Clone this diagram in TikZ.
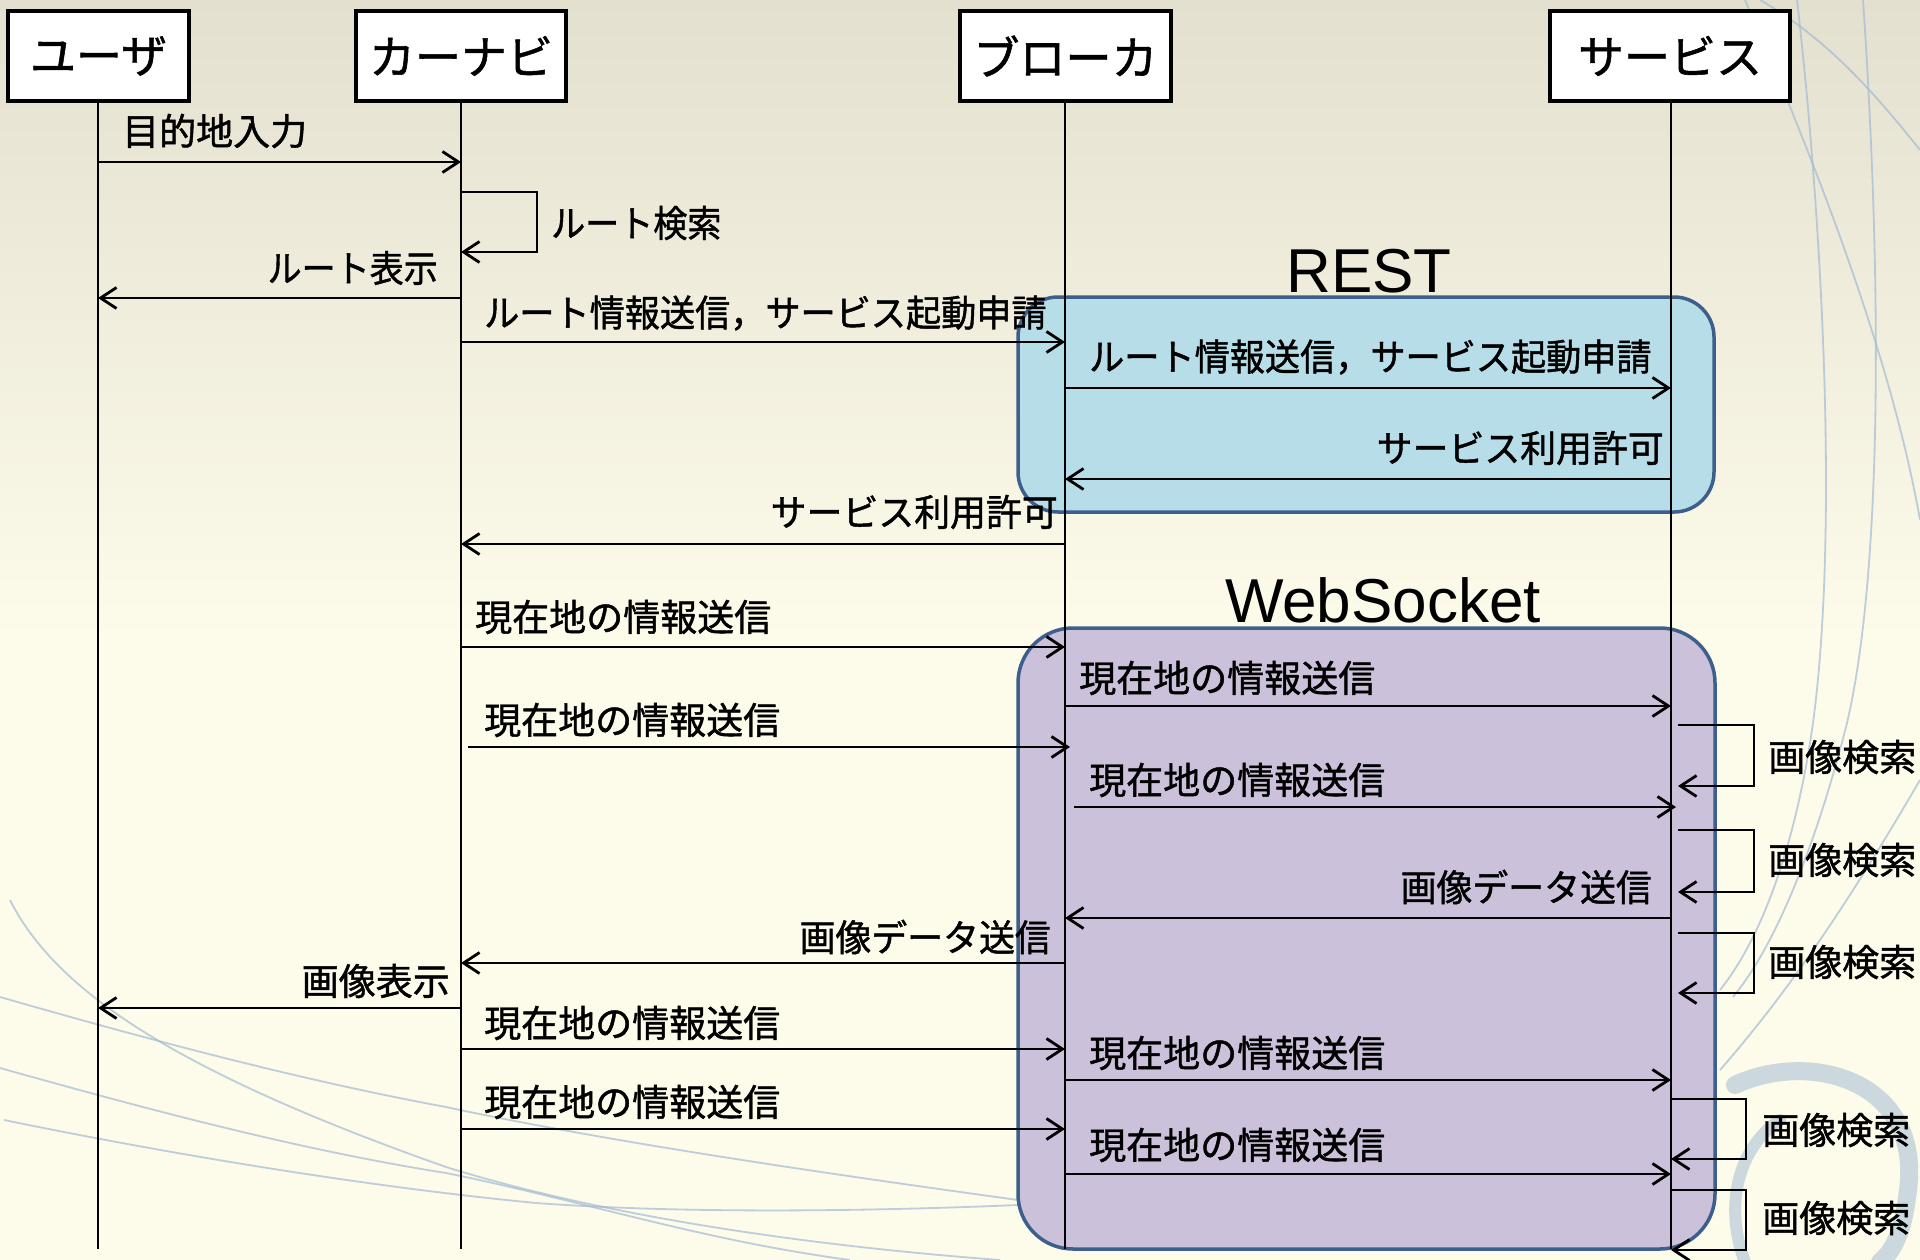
\documentclass[tikz,border=0pt]{standalone}
\usepackage{fontspec}
\usepackage{graphicx}
\newfontfamily\jpfont[FakeBold=1.2]{Noto Sans CJK JP}
\newfontfamily\latfont{Liberation Sans}
\usetikzlibrary{arrows.meta}
\definecolor{bgcream}{HTML}{FDFBEA}
\definecolor{bgtop}{HTML}{E4E0D0}
\definecolor{restfill}{HTML}{B7DDE8}
\definecolor{wsfill}{HTML}{CCC1DA}
\definecolor{grpborder}{HTML}{3D5F8C}
\definecolor{decoblue}{HTML}{A3BAD3}
\definecolor{swirlc}{HTML}{C3D2DC}
\newcommand{\sqz}[2]{\scalebox{#1}[1]{#2}}
\begin{document}
\begin{tikzpicture}[x=1pt,y=-1pt,
  actor/.style={draw=black, line width=4pt, fill=white, minimum height=90pt, inner sep=0pt,
    font=\jpfont\fontsize{46}{50}\selectfont},
  lifeline/.style={draw=black, line width=2pt},
  msg/.style={draw=black, line width=2.8pt, -{Straight Barb[length=16pt,width=21pt]}},
  lbl/.style={inner sep=0pt, font=\jpfont\fontsize{37}{40}\selectfont},
  grp/.style={draw=grpborder, line width=3.5pt, rounded corners=#1, inner sep=0pt},
  title/.style={inner sep=0pt, anchor=base, font=\latfont\fontsize{62}{66}\selectfont},
  deco/.style={draw=decoblue, line width=1.8pt, opacity=0.7}
]
\useasboundingbox (0,0) rectangle (1920,1260);
% background
\fill[bgcream] (0,0) rectangle (1920,1260);
\shade[top color=bgtop, bottom color=bgcream, shading angle=0] (0,0) rectangle (1920,640);
% decorative curves
\draw[deco] (1797,0) .. controls (1820,200) and (1840,520) .. (1813,723) .. controls (1795,850) and (1760,940) .. (1720,990);
\draw[deco] (1863,0) .. controls (1880,250) and (1885,560) .. (1847,723) .. controls (1820,830) and (1780,940) .. (1733,997);
\draw[deco] (1745,0) .. controls (1810,150) and (1890,350) .. (1920,520);
\draw[deco] (1760,0) .. controls (1830,40) and (1880,100) .. (1920,150);
\draw[deco] (1920,780) .. controls (1850,900) and (1790,990) .. (1720,1070);
\draw[deco] (10,900) .. controls (60,1000) and (200,1080) .. (446,1167) .. controls (600,1215) and (800,1245) .. (1000,1260);
\draw[deco] (0,997) .. controls (150,1040) and (300,1080) .. (446,1107) .. controls (600,1140) and (800,1170) .. (1018,1200);
\draw[deco] (0,1068) .. controls (150,1110) and (300,1150) .. (446,1173) .. controls (580,1200) and (700,1240) .. (850,1260);
\draw[deco] (4,1120) .. controls (150,1150) and (350,1185) .. (536,1203) .. controls (700,1215) and (900,1210) .. (1018,1205);
\draw[draw=swirlc, line width=18pt, opacity=0.85, line cap=round] (1735,1085) .. controls (1810,1050) and (1922,1080) .. (1908,1190) .. controls (1903,1235) and (1892,1252) .. (1880,1262);
\draw[draw=swirlc, line width=12pt, opacity=0.85, line cap=round] (1745,1262) .. controls (1725,1210) and (1735,1150) .. (1780,1120);
% group boxes
\node[grp=40pt, fill=restfill, minimum width=696pt, minimum height=215pt] (rest) at (1366,404.5) {};
\node[grp=55pt, fill=wsfill, minimum width=697pt, minimum height=621pt] (ws) at (1366.5,938.5) {};
\node[title] (resttitle) at (1369,292) {REST};
\node[title] (wstitle) at (1383,622) {WebSocket};
% actors
\node[actor, minimum width=181pt] (user) at (98.5,56) {ユーザ};
\node[actor, minimum width=210pt] (car) at (461,56) {カーナビ};
\node[actor, minimum width=211pt] (brk) at (1065.5,56) {ブローカ};
\node[actor, minimum width=240pt] (svc) at (1670,56) {サービス};
% lifelines
\coordinate (userend) at (98,1249);
\coordinate (carend) at (461,1249);
\coordinate (brkend) at (1065,1249);
\coordinate (svcend) at (1671,1249);
\draw[lifeline] (user.south -| userend) -- (userend);
\draw[lifeline] (car.south -| carend) -- (carend);
\draw[lifeline] (brk.south -| brkend) -- (brkend);
\draw[lifeline] (svc.south -| svcend) -- (svcend);
% messages
\coordinate (a1) at (98,162); \coordinate (b1) at (461,162);
\draw[msg] (a1) -- (b1);
\node[lbl, anchor=west] (t1) at (122,131) {目的地入力};
\coordinate (s1a) at (461,192); \coordinate (s1b) at (537,192); \coordinate (s1c) at (537,252); \coordinate (s1d) at (461,252);
\draw[msg] (s1a) -- (s1b) -- (s1c) -- (s1d);
\node[lbl, anchor=west] (ts1) at (551,223) {\sqz{0.92}{ルート検索}};
\coordinate (a2) at (461,298); \coordinate (b2) at (98,298);
\draw[msg] (a2) -- (b2);
\node[lbl, anchor=east] (t2) at (438,268) {\sqz{0.92}{ルート表示}};
\coordinate (a3) at (461,342); \coordinate (b3) at (1065,342);
\draw[msg] (a3) -- (b3);
\node[lbl, anchor=west] (t3) at (484,313) {\sqz{0.95}{ルート情報送信，サービス起動申請}};
\coordinate (a4) at (1065,388); \coordinate (b4) at (1671,388);
\draw[msg] (a4) -- (b4);
\node[lbl, anchor=west] (t4) at (1089,357) {\sqz{0.95}{ルート情報送信，サービス起動申請}};
\coordinate (a5) at (1671,479); \coordinate (b5) at (1065,479);
\draw[msg] (a5) -- (b5);
\node[lbl, anchor=east] (t5) at (1664,448) {\sqz{0.97}{サービス利用許可}};
\coordinate (a6) at (1065,544); \coordinate (b6) at (461,544);
\draw[msg] (a6) -- (b6);
\node[lbl, anchor=east] (t6) at (1058,512) {\sqz{0.97}{サービス利用許可}};
\coordinate (a7) at (461,647); \coordinate (b7) at (1065,647);
\draw[msg] (a7) -- (b7);
\node[lbl, anchor=west] (t7) at (475,617) {現在地の情報送信};
\coordinate (a8) at (1065,706); \coordinate (b8) at (1671,706);
\draw[msg] (a8) -- (b8);
\node[lbl, anchor=west] (t8) at (1079,678) {現在地の情報送信};
\coordinate (a9) at (468,747); \coordinate (b9) at (1070,747);
\draw[msg] (a9) -- (b9);
\node[lbl, anchor=west] (t9) at (484,720) {現在地の情報送信};
\coordinate (sAa) at (1678,725); \coordinate (sAb) at (1754,725); \coordinate (sAc) at (1754,786); \coordinate (sAd) at (1678,786);
\draw[msg] (sAa) -- (sAb) -- (sAc) -- (sAd);
\node[lbl, anchor=west] (tsA) at (1768,757) {画像検索};
\coordinate (a10) at (1074,807); \coordinate (b10) at (1676,807);
\draw[msg] (a10) -- (b10);
\node[lbl, anchor=west] (t10) at (1089,780) {現在地の情報送信};
\coordinate (sBa) at (1678,830); \coordinate (sBb) at (1754,830); \coordinate (sBc) at (1754,892); \coordinate (sBd) at (1678,892);
\draw[msg] (sBa) -- (sBb) -- (sBc) -- (sBd);
\node[lbl, anchor=west] (tsB) at (1768,860) {画像検索};
\coordinate (a11) at (1671,918); \coordinate (b11) at (1065,918);
\draw[msg] (a11) -- (b11);
\node[lbl, anchor=east] (t11) at (1652,887) {\sqz{0.97}{画像データ送信}};
\coordinate (sCa) at (1678,933); \coordinate (sCb) at (1754,933); \coordinate (sCc) at (1754,993); \coordinate (sCd) at (1678,993);
\draw[msg] (sCa) -- (sCb) -- (sCc) -- (sCd);
\node[lbl, anchor=west] (tsC) at (1768,962) {画像検索};
\coordinate (a12) at (1065,963); \coordinate (b12) at (461,963);
\draw[msg] (a12) -- (b12);
\node[lbl, anchor=east] (t12) at (1051,937) {\sqz{0.97}{画像データ送信}};
\coordinate (a13) at (461,1008); \coordinate (b13) at (98,1008);
\draw[msg] (a13) -- (b13);
\node[lbl, anchor=east] (t13) at (450,981) {画像表示};
\coordinate (a14) at (461,1049); \coordinate (b14) at (1065,1049);
\draw[msg] (a14) -- (b14);
\node[lbl, anchor=west] (t14) at (484,1023) {現在地の情報送信};
\coordinate (a15) at (1065,1080); \coordinate (b15) at (1671,1080);
\draw[msg] (a15) -- (b15);
\node[lbl, anchor=west] (t15) at (1089,1053) {現在地の情報送信};
\coordinate (a16) at (461,1129); \coordinate (b16) at (1065,1129);
\draw[msg] (a16) -- (b16);
\node[lbl, anchor=west] (t16) at (484,1102) {現在地の情報送信};
\coordinate (sDa) at (1671,1099); \coordinate (sDb) at (1746,1099); \coordinate (sDc) at (1746,1159); \coordinate (sDd) at (1671,1159);
\draw[msg] (sDa) -- (sDb) -- (sDc) -- (sDd);
\node[lbl, anchor=west] (tsD) at (1762,1130) {画像検索};
\coordinate (a17) at (1065,1174); \coordinate (b17) at (1671,1174);
\draw[msg] (a17) -- (b17);
\node[lbl, anchor=west] (t17) at (1089,1145) {現在地の情報送信};
\coordinate (sEa) at (1671,1190); \coordinate (sEb) at (1746,1190); \coordinate (sEc) at (1746,1250); \coordinate (sEd) at (1671,1250);
\draw[msg] (sEa) -- (sEb) -- (sEc) -- (sEd);
\node[lbl, anchor=west] (tsE) at (1762,1218) {画像検索};
\end{tikzpicture}
\end{document}
